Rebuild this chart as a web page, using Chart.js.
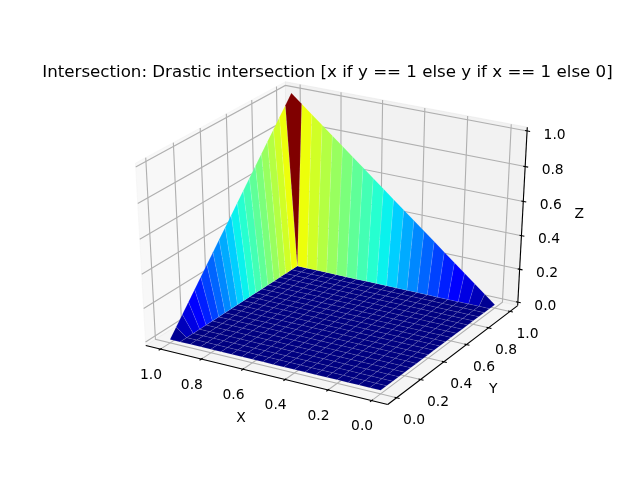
<!DOCTYPE html>
<html>
<head>
<meta charset="utf-8">
<style>
  html, body { margin: 0; padding: 0; background: #fff; }
  canvas { display: block; }
</style>
<script src="https://cdn.jsdelivr.net/npm/chart.js@4/dist/chart.umd.min.js"></script>
</head>
<body>
<canvas id="surface" width="640" height="480"></canvas>
<script>
const titleText = 'Intersection: Drastic intersection [x if y == 1 else y if x == 1 else 0]';

const xValues = [0, 0.05, 0.1, 0.15, 0.2, 0.25, 0.3, 0.35, 0.4, 0.45, 0.5, 0.55, 0.6, 0.65, 0.7, 0.75, 0.8, 0.85, 0.9, 0.95, 1];
const yValues = [0, 0.05, 0.1, 0.15, 0.2, 0.25, 0.3, 0.35, 0.4, 0.45, 0.5, 0.55, 0.6, 0.65, 0.7, 0.75, 0.8, 0.85, 0.9, 0.95, 1];
// one row per y value, one column per x value
const zRows = [
  [0,0,0,0,0,0,0,0,0,0,0,0,0,0,0,0,0,0,0,0,0],
  [0,0,0,0,0,0,0,0,0,0,0,0,0,0,0,0,0,0,0,0,0.05],
  [0,0,0,0,0,0,0,0,0,0,0,0,0,0,0,0,0,0,0,0,0.1],
  [0,0,0,0,0,0,0,0,0,0,0,0,0,0,0,0,0,0,0,0,0.15],
  [0,0,0,0,0,0,0,0,0,0,0,0,0,0,0,0,0,0,0,0,0.2],
  [0,0,0,0,0,0,0,0,0,0,0,0,0,0,0,0,0,0,0,0,0.25],
  [0,0,0,0,0,0,0,0,0,0,0,0,0,0,0,0,0,0,0,0,0.3],
  [0,0,0,0,0,0,0,0,0,0,0,0,0,0,0,0,0,0,0,0,0.35],
  [0,0,0,0,0,0,0,0,0,0,0,0,0,0,0,0,0,0,0,0,0.4],
  [0,0,0,0,0,0,0,0,0,0,0,0,0,0,0,0,0,0,0,0,0.45],
  [0,0,0,0,0,0,0,0,0,0,0,0,0,0,0,0,0,0,0,0,0.5],
  [0,0,0,0,0,0,0,0,0,0,0,0,0,0,0,0,0,0,0,0,0.55],
  [0,0,0,0,0,0,0,0,0,0,0,0,0,0,0,0,0,0,0,0,0.6],
  [0,0,0,0,0,0,0,0,0,0,0,0,0,0,0,0,0,0,0,0,0.65],
  [0,0,0,0,0,0,0,0,0,0,0,0,0,0,0,0,0,0,0,0,0.7],
  [0,0,0,0,0,0,0,0,0,0,0,0,0,0,0,0,0,0,0,0,0.75],
  [0,0,0,0,0,0,0,0,0,0,0,0,0,0,0,0,0,0,0,0,0.8],
  [0,0,0,0,0,0,0,0,0,0,0,0,0,0,0,0,0,0,0,0,0.85],
  [0,0,0,0,0,0,0,0,0,0,0,0,0,0,0,0,0,0,0,0,0.9],
  [0,0,0,0,0,0,0,0,0,0,0,0,0,0,0,0,0,0,0,0,0.95],
  [0,0.05,0.1,0.15,0.2,0.25,0.3,0.35,0.4,0.45,0.5,0.55,0.6,0.65,0.7,0.75,0.8,0.85,0.9,0.95,1]
];

const xTicks = [1.0, 0.8, 0.6, 0.4, 0.2, 0.0];
const yTicks = [0.0, 0.2, 0.4, 0.6, 0.8, 1.0];
const zTicks = [0.0, 0.2, 0.4, 0.6, 0.8, 1.0];

const xLim = [1.05, -0.05];   // x runs backwards
const yLim = [-0.05, 1.05];
const zLim = [0, 1];

// jet colormap stops
const jetR = [[0, 0], [0.35, 0], [0.66, 1], [0.89, 1], [1, 0.5]];
const jetG = [[0, 0], [0.125, 0], [0.375, 1], [0.64, 1], [0.91, 0], [1, 0]];
const jetB = [[0, 0.5], [0.11, 1], [0.34, 1], [0.65, 0], [1, 0]];

const FONT = "'DejaVu Sans', sans-serif";
const GRID = '#b0b0b0';
const SEAM = 'rgba(255,255,255,0.18)';

// camera
const elev = 30 * Math.PI / 180;
const azim = -60 * Math.PI / 180;
const dist = 10;
const W = [Math.cos(elev) * Math.cos(azim), Math.cos(elev) * Math.sin(azim), Math.sin(elev)];
const U = [-Math.sin(azim), Math.cos(azim), 0];
const V = [-Math.sin(elev) * Math.cos(azim), -Math.sin(elev) * Math.sin(azim), Math.cos(elev)];
const dot = (a, b) => a[0] * b[0] + a[1] * b[1] + a[2] * b[2];

// axes box of the figure, in pixels per view unit
const pxX = 496 / 0.185, pxY = 369.6 / 0.185;
const centerX = 80 + 0.095 * pxX, centerY = 427.2 - 0.095 * pxY;
const titleBottom = 73;
const leftPad = 15;   // moves the centred title over the axes box

function project(x, y, z) {
  const q = [
    (x - xLim[0]) / (xLim[1] - xLim[0]) - 0.5,
    (y - yLim[0]) / (yLim[1] - yLim[0]) - 0.5,
    (z - zLim[0]) / (zLim[1] - zLim[0]) - 0.5
  ];
  const d = dist - dot(q, W);
  return { x: dot(q, U) / d, y: dot(q, V) / d, depth: d };
}

function jetChannel(stops, v) {
  for (let i = 1; i < stops.length; i++) {
    if (v <= stops[i][0]) {
      const t = (v - stops[i - 1][0]) / (stops[i][0] - stops[i - 1][0]);
      return stops[i - 1][1] + t * (stops[i][1] - stops[i - 1][1]);
    }
  }
  return stops[stops.length - 1][1];
}

function jet(v) {
  const c = [jetR, jetG, jetB].map(s => Math.round(jetChannel(s, v) * 255));
  return `rgb(${c[0]},${c[1]},${c[2]})`;
}

// pane edges sit 1/48 of the range outside the limits
const xPad = (xLim[0] - xLim[1]) / 48, yPad = (yLim[1] - yLim[0]) / 48, zPad = (zLim[1] - zLim[0]) / 48;
const xBack = xLim[0] + xPad, xFront = xLim[1] - xPad;
const yFront = yLim[0] - yPad, yBack = yLim[1] + yPad;
const zLow = zLim[0] - zPad, zHigh = zLim[1] + zPad;

const datasets = [];

function addLine(points, color, width) {
  datasets.push({
    data: points.map(p => project(p[0], p[1], p[2])),
    showLine: true, borderColor: color, borderWidth: width,
    pointRadius: 0, fill: false, clip: false
  });
}

function addPoly(points, color, edgeColor, edge) {
  datasets.push({
    data: points.map(p => project(p[0], p[1], p[2])),
    showLine: true, backgroundColor: color, borderColor: edgeColor, borderWidth: edge,
    pointRadius: 0, fill: 'shape', clip: false
  });
}

// panes
const xPane = 'rgba(242,242,242,0.5)', yPane = 'rgba(230,230,230,0.5)', zPane = 'rgba(236,236,236,0.5)';
addPoly([[xBack, yFront, zLow], [xBack, yBack, zLow], [xBack, yBack, zHigh], [xBack, yFront, zHigh], [xBack, yFront, zLow]], xPane, xPane, 1);
addPoly([[xFront, yBack, zLow], [xBack, yBack, zLow], [xBack, yBack, zHigh], [xFront, yBack, zHigh], [xFront, yBack, zLow]], yPane, yPane, 1);
addPoly([[xFront, yFront, zLow], [xBack, yFront, zLow], [xBack, yBack, zLow], [xFront, yBack, zLow], [xFront, yFront, zLow]], zPane, zPane, 1);

// grid
xTicks.forEach(t => addLine([[t, yFront, zLow], [t, yBack, zLow], [t, yBack, zHigh]], GRID, 1.11));
yTicks.forEach(t => addLine([[xFront, t, zLow], [xBack, t, zLow], [xBack, t, zHigh]], GRID, 1.11));
zTicks.forEach(t => addLine([[xBack, yFront, t], [xBack, yBack, t], [xFront, yBack, t]], GRID, 1.11));

// axis lines
addLine([[xBack, yFront, zLow], [xFront, yFront, zLow]], '#000', 1.11);
addLine([[xFront, yFront, zLow], [xFront, yBack, zLow]], '#000', 1.11);
addLine([[xFront, yBack, zLow], [xFront, yBack, zHigh]], '#000', 1.11);

// tick marks
const xTickOut = 0.15 * (yLim[1] - yLim[0]) / 12, xTickIn = 0.1 * (yLim[1] - yLim[0]) / 12;
xTicks.forEach(t => addLine([[t, yFront - xTickOut, zLow], [t, yFront + xTickIn, zLow]], '#000', 1.11));
yTicks.forEach(t => addLine([[xFront - xTickOut, t, zLow], [xFront + xTickIn, t, zLow]], '#000', 1.11));
zTicks.forEach(t => addLine([[xFront - xTickOut, yBack, t], [xFront + xTickIn, yBack, t]], '#000', 1.11));

// surface facets, far ones first
const facets = [];
for (let j = 0; j < yValues.length - 1; j++) {
  for (let i = 0; i < xValues.length - 1; i++) {
    const corners = [[i, j], [i + 1, j], [i + 1, j + 1], [i, j + 1]]
      .map(c => [xValues[c[0]], yValues[c[1]], zRows[c[1]][c[0]]]);
    const meanZ = corners.reduce((s, p) => s + p[2], 0) / 4;
    const depth = corners.reduce((s, p) => s + project(p[0], p[1], p[2]).depth, 0) / 4;
    facets.push({ corners, meanZ, depth });
  }
}
const zMax = Math.max(...facets.map(f => f.meanZ));
facets.sort((a, b) => b.depth - a.depth);
facets.forEach(f => addPoly(f.corners.concat([f.corners[0]]), jet(f.meanZ / zMax), SEAM, 0.5));

const axisText = {
  id: 'axisText',
  afterDatasetsDraw(chart) {
    const { ctx, scales } = chart;
    const put = (text, p, dx, dy) => {
      ctx.fillText(text, scales.x.getPixelForValue(p.x) + dx, scales.y.getPixelForValue(p.y) + dy);
    };
    ctx.save();
    ctx.fillStyle = '#000';
    ctx.textAlign = 'center';
    ctx.textBaseline = 'middle';
    ctx.font = `13.89px ${FONT}`;
    xTicks.forEach(t => put(t.toFixed(1), project(t, yFront, zLow), -9.5, 26));
    yTicks.forEach(t => put(t.toFixed(1), project(xFront, t, zLow), 17.5, 23));
    zTicks.forEach(t => put(t.toFixed(1), project(xFront, yBack, t), 27.5, 4));
    put('X', project(0.5, yFront, zLow), -23, 44);
    put('Y', project(xFront, 0.5, zLow), 38, 36);
    put('Z', project(xFront, yBack, 0.5), 57, -4.5);
    ctx.restore();
  }
};

new Chart(document.getElementById('surface'), {
  type: 'scatter',
  data: { datasets: datasets.reverse() },
  options: {
    responsive: false,
    animation: false,
    events: [],
    layout: { padding: { left: leftPad } },
    elements: { line: { tension: 0, borderJoinStyle: 'miter' } },
    scales: {
      x: { display: false, min: (leftPad - centerX) / pxX, max: (640 - centerX) / pxX },
      y: { display: false, min: (centerY - 480) / pxY, max: (centerY - titleBottom) / pxY }
    },
    plugins: {
      legend: { display: false },
      tooltip: { enabled: false },
      title: {
        display: true,
        text: titleText,
        color: '#000',
        font: { family: FONT, size: 16.67, weight: 'normal', lineHeight: 1.2 },
        padding: { top: 63, bottom: -10 }
      }
    }
  },
  plugins: [axisText]
});
</script>
</body>
</html>
